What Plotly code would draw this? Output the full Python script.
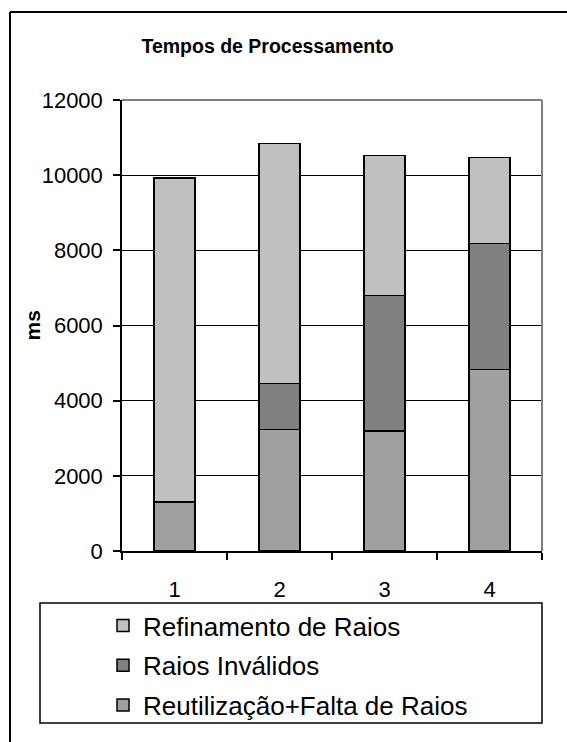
import plotly.graph_objects as go

# Processing times (ms) per configuration, stacked bottom to top
categories = ["1", "2", "3", "4"]
reutilizacao = [1300, 3230, 3190, 4830]
invalidos = [0, 1230, 3610, 3350]
refinamento = [8620, 6380, 3720, 2290]

series = [
    ("Reutilização+Falta de Raios", reutilizacao, "#A0A0A0"),
    ("Raios Inválidos", invalidos, "#808080"),
    ("Refinamento de Raios", refinamento, "#C0C0C0"),
]

FONT = "Liberation Sans, Arial, sans-serif"

fig = go.Figure()
for i, (name, vals, color) in enumerate(series):
    fig.add_trace(go.Bar(
        x=categories, y=vals, name=name,
        legendgroup=f"g{i}", legendrank=len(series) - i,
        marker=dict(color=color, line=dict(color="black", width=1.5)),
    ))

# pixel geometry of the plotting area
W, H = 567, 742
L, R, T, B = 122, 25, 100, 191
pw, ph = W - L - R, H - T - B


def px(x):
    return (x - L) / pw


def py(y):
    return (H - B - y) / ph


shapes = [
    # outer frame (left and top edges)
    dict(type="line", xref="paper", yref="paper", x0=px(10), x1=px(10),
         y0=py(12), y1=py(760), line=dict(color="black", width=2)),
    dict(type="line", xref="paper", yref="paper", x0=px(10), x1=px(580),
         y0=py(12), y1=py(12), line=dict(color="black", width=2)),
    # plot area top/right border
    dict(type="line", xref="paper", yref="paper", x0=0, x1=1, y0=1, y1=1,
         line=dict(color="#808080", width=2)),
    dict(type="line", xref="paper", yref="paper", x0=1, x1=1, y0=0, y1=1,
         line=dict(color="#808080", width=2)),
    # legend box
    dict(type="rect", xref="paper", yref="paper", x0=px(40), x1=px(542),
         y0=py(723), y1=py(603), line=dict(color="black", width=1.5)),
]

fig.update_layout(
    width=W, height=H,
    margin=dict(l=L, r=R, t=T, b=B, autoexpand=False),
    paper_bgcolor="white", plot_bgcolor="white",
    barmode="stack", bargap=0.61,
    font=dict(family=FONT, color="black", size=22),
    title=dict(text="<b>Tempos de Processamento</b>", x=267.5 / W, xanchor="center",
               y=1 - 46 / H, yanchor="middle", yref="container",
               font=dict(size=19.5, family=FONT, color="black")),
    xaxis=dict(
        type="category", showgrid=False, showline=True, linecolor="black", linewidth=1.5,
        ticks="outside", tickson="boundaries", ticklen=7, tickcolor="black", tickwidth=1.5,
        tickfont=dict(size=22), ticklabelstandoff=18, automargin=False,
    ),
    yaxis=dict(
        range=[0, 12000], dtick=2000, tickformat="d", showgrid=True,
        gridcolor="black", gridwidth=1,
        showline=True, linecolor="black", linewidth=1.5, zeroline=False,
        ticks="outside", ticklen=7, tickcolor="black", tickwidth=1.5,
        tickfont=dict(size=22), ticklabelstandoff=6, automargin=False,
    ),
    showlegend=True,
    legend=dict(
        x=px(103), xanchor="left", y=py(602), yanchor="top",
        traceorder="grouped", tracegroupgap=3,
        font=dict(size=26, family=FONT, color="black"),
        bgcolor="rgba(0,0,0,0)", borderwidth=0,
    ),
    shapes=shapes,
    annotations=[
        dict(text="<b>ms</b>", xref="paper", yref="paper", x=px(32), y=0.5,
             xanchor="center", yanchor="middle", textangle=-90, showarrow=False,
             font=dict(size=21, family=FONT, color="black")),
    ],
)

fig.write_html("out.html")
